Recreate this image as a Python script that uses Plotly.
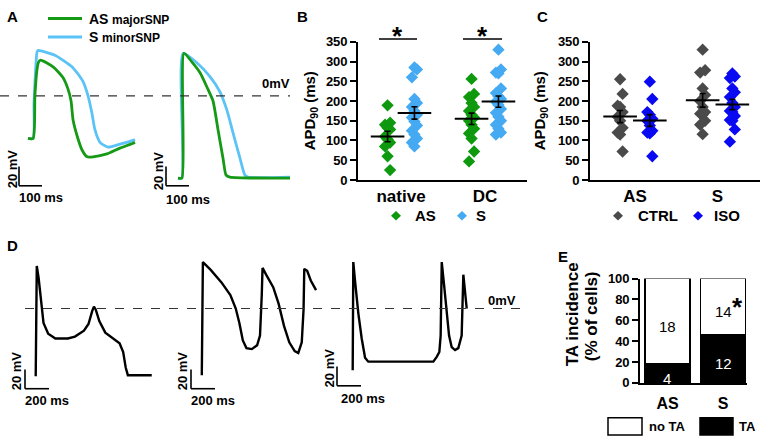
import numpy as np
import plotly.graph_objects as go

W, H = 760, 446
FONT = "Liberation Sans, Arial, sans-serif"
TR_GREEN = "#169a16"
TR_BLUE = "#5cc3f7"
M_GREEN = "#0e990e"
M_LBLUE = "#45aaf2"
M_GRAY = "#4a4a4a"
M_BLUE = "#0a0af2"

# ---------------- Panel A : representative APs (ms, mV) ----------------
a1_t_as = [0, 22, 30, 39, 46, 55, 109, 152, 174, 187, 196, 213, 235, 257, 283, 343, 400, 457, 465]
a1_v_as = [-44, -44, 0, 27, 35, 37, 30, 19, 7, -5, -25, -41, -56, -63, -63, -60, -54, -49, -48]
a1_t_s = [0, 22, 26, 33, 39, 43, 117, 196, 239, 261, 278, 291, 313, 348, 400, 457, 465]
a1_v_s = [-44, -44, -8, 27, 45, 47, 42, 29, 15, 0, -18, -35, -48, -53, -50, -46, -45]
a2_t_as = [0, 17, 26, 61, 96, 130, 152, 174, 196, 209, 226, 487]
a2_v_as = [-85, -85, 44, 35, 24, 7, -5, -35, -65, -82, -84, -85]
a2_t_s = [0, 17, 22, 83, 139, 183, 213, 239, 270, 291, 304, 487]
a2_v_s = [-85, -85, 44, 34, 20, 4, -15, -38, -65, -82, -84, -84]

# ---------------- Panel B : APD90 (ms) ----------------
b_groups = ["native", "DC"]
b_native_as = [189, 145, 140, 132, 128, 110, 103, 95, 85, 60, 25]
b_native_s = [285, 280, 260, 205, 195, 185, 175, 165, 158, 148, 138, 125, 115, 105, 95, 85]
b_dc_as = [256, 218, 210, 195, 185, 175, 165, 158, 150, 140, 130, 118, 105, 72, 47]
b_dc_s = [330, 280, 272, 270, 232, 220, 212, 205, 198, 190, 180, 170, 160, 150, 140, 130, 120, 115]

# ---------------- Panel C : APD90 (ms) CTRL vs ISO ----------------
c_groups = ["AS", "S"]
c_as_ctrl = [255, 218, 188, 185, 172, 160, 150, 132, 120, 115, 72]
c_as_iso = [249, 205, 172, 165, 155, 150, 138, 125, 120, 118, 60]
c_s_ctrl = [330, 278, 272, 232, 215, 200, 185, 172, 168, 165, 150, 140, 116]
c_s_iso = [270, 262, 258, 232, 222, 210, 195, 185, 175, 172, 162, 152, 150, 128, 97]

# ---------------- Panel D : triggered activity traces (ms, mV) ----------------
d1_t = [0, 9, 24, 45, 65, 104, 164, 268, 327, 402, 440, 470, 485, 500, 530, 580, 649, 699, 729, 750, 768, 967]
d1_v = [-70, 44, 32, 5, -15, -26, -31, -31, -29, -23, -16, -3, 2, -1, -13, -25, -31, -36, -45, -61, -69, -69]
d2_t = [0, 9, 74, 164, 238, 283, 313, 342, 372, 417, 461, 485, 500, 506, 536, 595, 640, 685, 729, 774, 804, 833, 848, 854, 878, 908, 952]
d2_v = [-69, 48, 40, 27, 14, 0, -15, -33, -41, -42, -38, -28, 15, 42, 35, 22, 5, -18, -35, -44, -46, -35, -1, 41, 39, 29, 19]
d3_t = [0, 5, 19, 47, 75, 103, 130, 672, 700, 722, 733, 742, 761, 783, 803, 825, 853, 880, 908, 922, 936, 950]
d3_v = [-64, 48, 29, -5, -31, -51, -55, -55, -50, -45, -28, 48, 25, -5, -28, -40, -43, -41, -28, 35, 19, 0]

# ---------------- Panel E : TA incidence ----------------
e_groups = ["AS", "S"]
e_ta = [4, 12]
e_nota = [18, 14]


def X(px):
    return px / W


def Y(py):
    return 1 - py / H


def ax_name(n, kind):
    return f"{kind}axis" if n == 1 else f"{kind}axis{n}"


def ref(n, kind):
    return kind if n == 1 else f"{kind}{n}"


fig = go.Figure()
layout_axes = {}


def trace_axes(n, x0, x1, ytop, ybot, t0px, zero_py, sx, sy=1.0):
    layout_axes[ax_name(n, "x")] = dict(
        domain=[X(x0), X(x1)], range=[(x0 - t0px) / sx, (x1 - t0px) / sx],
        visible=False, anchor=ref(n, "y"), fixedrange=True)
    layout_axes[ax_name(n, "y")] = dict(
        domain=[Y(ybot), Y(ytop)], range=[(zero_py - ybot) / sy, (zero_py - ytop) / sy],
        visible=False, anchor=ref(n, "x"), fixedrange=True)


A_S = 0.23
D_S = 0.12
trace_axes(1, 20, 150, 40, 195, 28, 92, A_S)
trace_axes(2, 170, 295, 40, 195, 178, 92, A_S)
trace_axes(5, 25, 160, 255, 400, 35.7, 312, D_S)
trace_axes(6, 190, 330, 255, 400, 201.8, 312, D_S)
trace_axes(7, 340, 480, 255, 400, 352.7, 312, D_S)


def add_line(t, v, n, color, width, shape="linear"):
    fig.add_trace(go.Scatter(x=t, y=v, mode="lines", xaxis=ref(n, "x"), yaxis=ref(n, "y"),
                             line=dict(color=color, width=width, shape=shape, smoothing=0.6),
                             showlegend=False, hoverinfo="skip"))


add_line(a1_t_s, a1_v_s, 1, TR_BLUE, 2.8, "spline")
add_line(a1_t_as, a1_v_as, 1, TR_GREEN, 2.8, "spline")
add_line(a2_t_s, a2_v_s, 2, TR_BLUE, 2.8, "spline")
add_line(a2_t_as, a2_v_as, 2, TR_GREEN, 2.8, "spline")
add_line(d1_t, d1_v, 5, "black", 2.4)
add_line(d2_t, d2_v, 6, "black", 2.4)
add_line(d3_t, d3_v, 7, "black", 2.4)

# ---------- scatter panels ----------
jit = [0, 0.03, -0.03]


def dot_group(vals, xc, n, color):
    xs = [xc + jit[i % 3] for i in range(len(vals))]
    fig.add_trace(go.Scatter(x=xs, y=vals, mode="markers", xaxis=ref(n, "x"), yaxis=ref(n, "y"),
                             marker=dict(symbol="diamond", size=9.5, color=color, line=dict(width=0)),
                             showlegend=False, hoverinfo="skip", cliponaxis=False))
    arr = np.array(vals, dtype=float)
    m = arr.mean()
    sem = arr.std(ddof=1) / np.sqrt(len(arr))
    fig.add_trace(go.Scatter(x=[xc], y=[m], mode="markers", xaxis=ref(n, "x"), yaxis=ref(n, "y"),
                             marker=dict(symbol="line-ew", size=24, color="black",
                                         line=dict(width=2, color="black")),
                             error_y=dict(type="data", array=[sem], color="black", thickness=1.6, width=3),
                             showlegend=False, hoverinfo="skip", cliponaxis=False))


OFF_B = 0.16
dot_group(b_native_as, 1 - OFF_B, 3, M_GREEN)
dot_group(b_native_s, 1 + OFF_B, 3, M_LBLUE)
dot_group(b_dc_as, 2 - OFF_B, 3, M_GREEN)
dot_group(b_dc_s, 2 + OFF_B, 3, M_LBLUE)

OFF_C = 0.18
dot_group(c_as_ctrl, 1 - OFF_C, 4, M_GRAY)
dot_group(c_as_iso, 1 + OFF_C, 4, M_BLUE)
dot_group(c_s_ctrl, 2 - OFF_C, 4, M_GRAY)
dot_group(c_s_iso, 2 + OFF_C, 4, M_BLUE)

# ---------- bars ----------
tot = [a + b for a, b in zip(e_ta, e_nota)]
ta_pct = [100 * a / t for a, t in zip(e_ta, tot)]
nota_pct = [100 * b / t for b, t in zip(e_nota, tot)]
ex = list(range(len(e_groups)))
fig.add_trace(go.Bar(x=ex, y=ta_pct, xaxis="x8", yaxis="y8", width=0.81, textposition="none",
                     marker=dict(color="black", line=dict(color="black", width=1.5)),
                     showlegend=False, hoverinfo="skip"))
fig.add_trace(go.Bar(x=ex, y=nota_pct, xaxis="x8", yaxis="y8", width=0.81, textposition="none",
                     marker=dict(color="white", line=dict(color="black", width=1.5)),
                     showlegend=False, hoverinfo="skip"))

axbase = dict(showline=True, linecolor="black", linewidth=1.6, showgrid=False, zeroline=False,
              fixedrange=True)
yt = dict(ticks="outside", ticklen=6, tickwidth=1.5, tickcolor="black",
          tickfont=dict(family=FONT, size=13, color="black", weight="bold"))
xt = dict(ticks="", tickfont=dict(family=FONT, size=17, color="black", weight="bold"))

layout_axes["xaxis3"] = dict(axbase, **xt, domain=[X(358), X(527)], range=[0.488, 2.5],
                             tickvals=[1, 2], ticktext=b_groups, anchor="y3")
layout_axes["yaxis3"] = dict(axbase, **yt, domain=[Y(179), Y(36)], range=[0, 350],
                             tickvals=list(range(0, 351, 50)), anchor="x3")
layout_axes["xaxis4"] = dict(axbase, **xt, domain=[X(590), X(760)], range=[0.455, 2.515],
                             tickvals=[1, 2], ticktext=c_groups, anchor="y4")
layout_axes["yaxis4"] = dict(axbase, **yt, domain=[Y(179), Y(36)], range=[0, 350],
                             tickvals=list(range(0, 351, 50)), anchor="x4")
layout_axes["xaxis8"] = dict(axbase, **dict(xt, tickfont=dict(family=FONT, size=16, color="black",
                                                               weight="bold")),
                             domain=[X(640), X(747)], range=[-0.495, 1.432],
                             tickvals=ex, ticktext=e_groups, anchor="y8", ticklabelstandoff=5)
layout_axes["yaxis8"] = dict(axbase, **yt, domain=[Y(389), Y(281)], range=[0, 100],
                             tickvals=list(range(0, 101, 20)), anchor="x8")


def txt(s, x, y, size=13, angle=0, xanchor="center", color="black", family=FONT, bold=True):
    return dict(text=(f"<b>{s}</b>" if bold else s), x=X(x), y=Y(y), xref="paper", yref="paper",
                showarrow=False, textangle=angle, xanchor=xanchor, yanchor="middle",
                font=dict(size=size, color=color, family=family))


def seg(x0, y0, x1, y1, color="black", width=1.5, dash="solid"):
    return dict(type="line", xref="paper", yref="paper", x0=X(x0), y0=Y(y0), x1=X(x1), y1=Y(y1),
                line=dict(color=color, width=width, dash=dash))


def diamond(cx, cy, r, color):
    pts = [(cx - r, cy), (cx, cy - r), (cx + r, cy), (cx, cy + r)]
    path = "M " + " L ".join(f"{X(px):.5f},{Y(py):.5f}" for px, py in pts) + " Z"
    return dict(type="path", xref="paper", yref="paper", path=path, fillcolor=color,
                line=dict(width=0, color=color))


ann = []
shp = []

# panel letters
for s, x, y in [("A", 12, 10), ("B", 302, 10), ("C", 542, 10), ("D", 12, 247), ("E", 563, 258)]:
    ann.append(txt(s, x, y, size=15))

# Panel A legend
shp.append(seg(48, 12, 82, 12, TR_GREEN, 3))
shp.append(seg(48, 31, 82, 31, TR_BLUE, 3))
ann.append(txt("AS", 87, 12, size=14, xanchor="left"))
ann.append(txt("majorSNP", 110, 13, size=12, xanchor="left"))
ann.append(txt("S", 87, 31, size=14, xanchor="left"))
ann.append(txt("minorSNP", 100, 32, size=12, xanchor="left"))

# 0 mV lines
shp.append(seg(0, 92, 290, 92, "#333333", 1.2, "dash"))
ann.append(txt("0mV", 276, 79, size=13))
shp.append(seg(25, 312, 528, 312, "#333333", 1.2, "dash"))
ann.append(txt("0mV", 502, 304, size=13))


# scale bars
def scalebar(xv, ytop, ybot, xh_end, mv_label_xy, ms_label, ms_xy):
    shp.append(seg(xv, ytop, xv, ybot, "black", 1.6))
    shp.append(seg(xv, ybot, xh_end, ybot, "black", 1.6))
    ann.append(txt("20 mV", mv_label_xy[0], mv_label_xy[1], size=13, angle=-90))
    ann.append(txt(ms_label, ms_xy[0], ms_xy[1], size=13))


scalebar(19, 165, 185, 19 + 100 * A_S, (12, 168), "100 ms", (41, 197))
scalebar(166, 165, 185, 166 + 100 * A_S, (158, 170), "100 ms", (188, 199))
scalebar(25, 375, 395, 25 + 200 * D_S, (16, 377), "200 ms", (47, 407))
scalebar(191, 375, 395, 191 + 200 * D_S, (182, 377), "200 ms", (213, 407))
scalebar(337, 372, 392, 337 + 200 * D_S, (329, 374), "200 ms", (363, 405))

# y titles
ann.append(txt("APD<sub>90</sub> (ms)", 310, 108, size=15, angle=-90))
ann.append(txt("APD<sub>90</sub> (ms)", 540, 108, size=15, angle=-90))
ann.append(txt("TA incidence", 572, 318, size=17, angle=-90))
ann.append(txt("(% of cells)", 591, 320, size=17, angle=-90))

# bar counts
for i in ex:
    ann.append(dict(text=str(e_ta[i]), x=i, y=ta_pct[i] / 2, xref="x8", yref="y8", showarrow=False,
                    yshift=-5, font=dict(size=15, color="white", family=FONT)))
    ann.append(dict(text=str(e_nota[i]), x=i, y=ta_pct[i] + nota_pct[i] / 2, xref="x8", yref="y8",
                    showarrow=False, yshift=-5, font=dict(size=15, color="black", family=FONT)))

# significance
shp.append(seg(379, 33, 417, 33, "black", 1.5))
shp.append(seg(463, 33, 502, 33, "black", 1.5))
ann.append(txt("*", 397, 30, size=26))
ann.append(txt("*", 482, 30, size=26))
ann.append(txt("*", 737, 310, size=26))

# B & C legends
shp.append(diamond(396, 216, 5, M_GREEN))
ann.append(txt("AS", 413, 216, size=15, xanchor="left"))
shp.append(diamond(462, 216, 5, M_LBLUE))
ann.append(txt("S", 474, 216, size=15, xanchor="left"))
shp.append(diamond(618, 216, 5, M_GRAY))
ann.append(txt("CTRL", 636, 216, size=15, xanchor="left"))
shp.append(diamond(698, 216, 5, M_BLUE))
ann.append(txt("ISO", 712, 216, size=15, xanchor="left"))

# E legend
shp.append(dict(type="rect", xref="paper", yref="paper", x0=X(608), x1=X(642), y0=Y(443), y1=Y(425),
                fillcolor="white", line=dict(color="black", width=1.5)))
ann.append(txt("no TA", 647, 434, size=13, xanchor="left"))
shp.append(dict(type="rect", xref="paper", yref="paper", x0=X(700), x1=X(733), y0=Y(443), y1=Y(425),
                fillcolor="black", line=dict(color="black", width=1.5)))
ann.append(txt("TA", 737, 434, size=13, xanchor="left"))

fig.update_layout(
    width=W, height=H, autosize=False,
    margin=dict(l=0, r=0, t=0, b=0),
    paper_bgcolor="white", plot_bgcolor="white",
    barmode="stack", showlegend=False,
    font=dict(family=FONT, color="black"),
    annotations=ann, shapes=shp,
    **layout_axes,
)

fig.write_html("out.html", config={"displayModeBar": False},
               post_script="document.body.style.margin='0';document.body.style.overflow='hidden';")
